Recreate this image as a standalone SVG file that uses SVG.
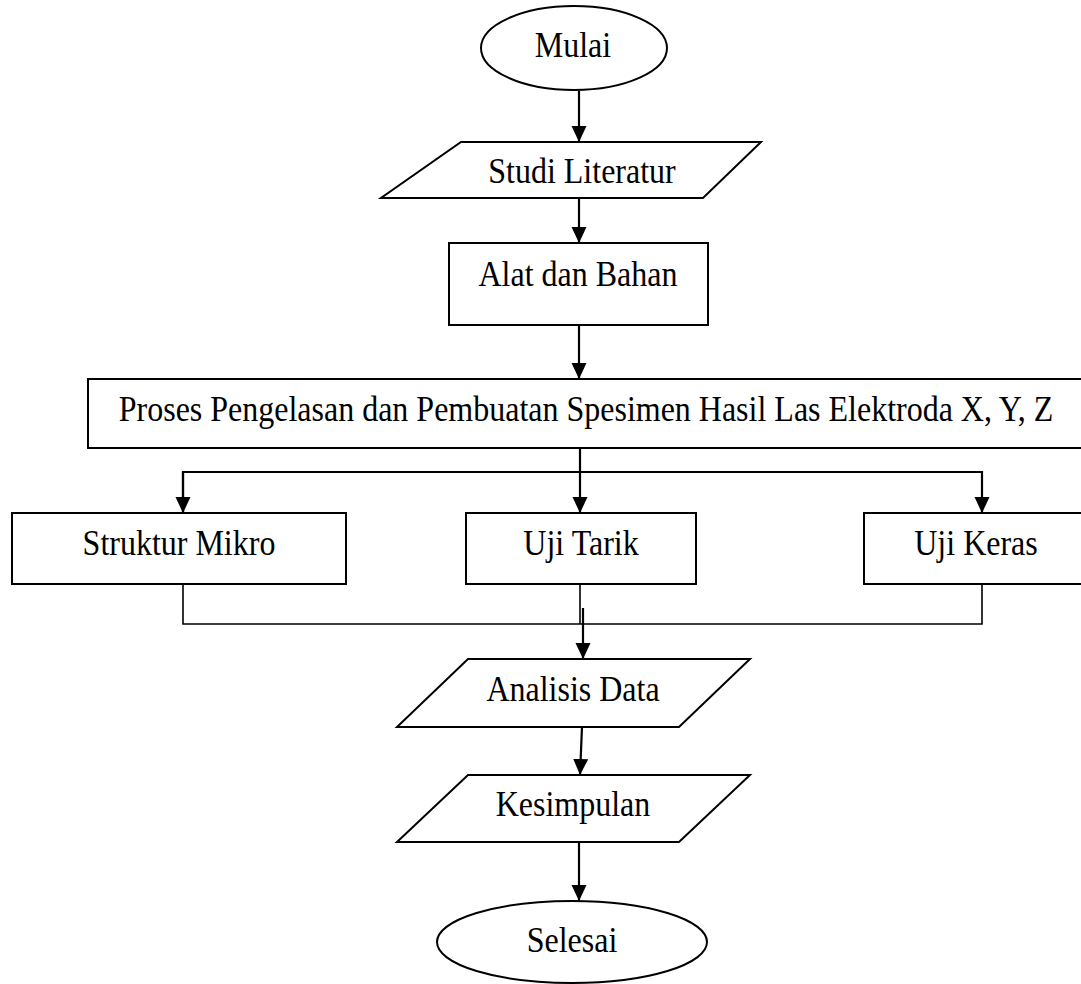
<svg xmlns="http://www.w3.org/2000/svg" width="1081" height="984" viewBox="0 0 1081 984">
<style>
.s{fill:#fff;stroke:#000;stroke-width:2}
.t{font-family:"Liberation Serif","Times New Roman",serif;font-size:32px;fill:#000;text-anchor:middle}
.c{fill:none;stroke:#000;stroke-width:2.2}
.j{fill:none;stroke:#000;stroke-width:1.6}
</style>
<defs>
<marker id="ah" markerUnits="userSpaceOnUse" markerWidth="16" markerHeight="16" refX="16" refY="7.5" orient="auto">
<path d="M0,0 L16,7.5 L0,15 z" fill="#000"/>
</marker>
</defs>
<rect width="1081" height="984" fill="#fff"/>
<g id="connectors">
<line class="c" x1="579" y1="91" x2="579" y2="142" marker-end="url(#ah)"/>
<line class="c" x1="579" y1="198" x2="579" y2="243" marker-end="url(#ah)"/>
<line class="c" x1="579" y1="325" x2="579" y2="379" marker-end="url(#ah)"/>
<line class="c" x1="580" y1="448" x2="580" y2="472"/>
<polyline class="c" points="183,513 183,472 982,472 982,513" marker-end="url(#ah)"/>
<line class="c" x1="183" y1="472" x2="183" y2="513" marker-end="url(#ah)"/>
<line class="c" x1="580" y1="472" x2="580" y2="513" marker-end="url(#ah)"/>
<polyline class="j" points="183,584 183,624 982,624 982,584"/>
<line class="j" x1="580" y1="584" x2="580" y2="624"/>
<line class="c" x1="583" y1="608" x2="583" y2="659" marker-end="url(#ah)"/>
<line class="c" x1="582" y1="727" x2="580" y2="775" marker-end="url(#ah)"/>
<line class="c" x1="579" y1="842" x2="579" y2="901" marker-end="url(#ah)"/>
</g>
<g id="mulai">
<ellipse class="s" cx="574" cy="48" rx="93" ry="42"/>
<text class="t" transform="translate(573,57) scale(1,1.14)">Mulai</text>
</g>
<g id="studi">
<polygon class="s" points="461,142 761,142 703,198 381,198"/>
<text class="t" transform="translate(582,183) scale(1,1.14)">Studi Literatur</text>
</g>
<g id="alat">
<rect class="s" x="449" y="243" width="259" height="82"/>
<text class="t" transform="translate(578,286) scale(1,1.14)">Alat dan Bahan</text>
</g>
<g id="proses">
<rect class="s" x="88" y="379" width="1000" height="69"/>
<text class="t" transform="translate(586,421) scale(1,1.14)">Proses Pengelasan dan Pembuatan Spesimen Hasil Las Elektroda X, Y, Z</text>
</g>
<g id="struktur">
<rect class="s" x="12" y="513" width="334" height="71"/>
<text class="t" transform="translate(179,555) scale(1,1.14)">Struktur Mikro</text>
</g>
<g id="tarik">
<rect class="s" x="466" y="513" width="230" height="71"/>
<text class="t" transform="translate(581,555) scale(1,1.14)">Uji Tarik</text>
</g>
<g id="keras">
<rect class="s" x="864" y="513" width="226" height="71"/>
<text class="t" transform="translate(976,555) scale(1,1.14)">Uji Keras</text>
</g>
<g id="analisis">
<polygon class="s" points="468,659 750,659 679,727 397,727"/>
<text class="t" transform="translate(573,701) scale(1,1.14)">Analisis Data</text>
</g>
<g id="kesimpulan">
<polygon class="s" points="468,775 750,775 679,842 397,842"/>
<text class="t" transform="translate(573,816) scale(1,1.14)">Kesimpulan</text>
</g>
<g id="selesai">
<ellipse class="s" cx="572" cy="942" rx="135" ry="41"/>
<text class="t" transform="translate(572,952) scale(1,1.14)">Selesai</text>
</g>
</svg>
